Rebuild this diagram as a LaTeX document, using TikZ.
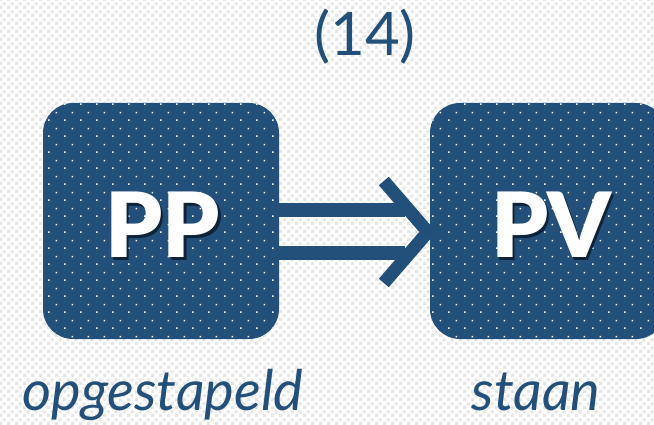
\documentclass[tikz,border=0pt]{standalone}
\usepackage{fontspec}
\setmainfont{Lato}
\newfontfamily\heavyfont{Lato Black}
\usetikzlibrary{patterns}
\pgfdeclarepatternformonly{bgchecker}{\pgfqpoint{0pt}{0pt}}{\pgfqpoint{8pt}{8pt}}{\pgfqpoint{8pt}{8pt}}{%
  \pgfpathrectangle{\pgfqpoint{0pt}{0pt}}{\pgfqpoint{3.5pt}{3.5pt}}%
  \pgfpathrectangle{\pgfqpoint{4pt}{4pt}}{\pgfqpoint{3.5pt}{3.5pt}}%
  \pgfusepath{fill}}
\pgfdeclarepatternformonly{whitedots}{\pgfqpoint{0pt}{0pt}}{\pgfqpoint{16pt}{16pt}}{\pgfqpoint{16pt}{16pt}}{%
  \pgfpathrectangle{\pgfqpoint{0pt}{0pt}}{\pgfqpoint{1.7pt}{1.7pt}}%
  \pgfpathrectangle{\pgfqpoint{8pt}{8pt}}{\pgfqpoint{1.7pt}{1.7pt}}%
  \pgfusepath{fill}}
\definecolor{dblue}{HTML}{23507A}
\definecolor{shadowblue}{HTML}{0E2238}
\newcommand{\shadowed}[1]{\rlap{\kern2.5pt\raisebox{-3pt}{\color{shadowblue}#1}}#1}
\tikzset{
  box/.style={draw=none, fill=dblue, rounded corners=30pt, minimum width=236pt, minimum height=236pt,
    inner sep=0pt, postaction={pattern=whitedots, pattern color=white}},
  boxtext/.style={text=white, font=\fontsize{90}{90}\selectfont\heavyfont, inner sep=0pt, anchor=base},
  caption/.style={text=dblue, font=\fontsize{56}{56}\selectfont\itshape, inner sep=0pt, anchor=base},
  bar/.style={draw=dblue, line width=14pt, line cap=butt},
  chev/.style={draw=dblue, line width=13pt, line cap=butt, line join=miter}
}
\begin{document}
\begin{tikzpicture}[x=1pt, y=-1pt]
\clip (0,0) rectangle (654,425);
\fill[white] (0,0) rectangle (654,425);
\fill[pattern=bgchecker, pattern color=gray!20] (0,0) rectangle (654,425);
% boxes
\node[box] (pp) at (161,221) {};
\node[box] (pv) at (548,221) {};
% double arrow
\draw[bar] ([yshift=11pt]pp.east) -- ([xshift=-25pt,yshift=11pt]pv.west);
\draw[bar] ([yshift=-32pt]pp.east) -- ([xshift=-25pt,yshift=-32pt]pv.west);
\draw[chev] ([xshift=-46pt,yshift=40pt]pv.west) -- ([xshift=-2pt,yshift=-11pt]pv.west) -- ([xshift=-46pt,yshift=-62pt]pv.west);
% box texts
\node[boxtext] (ppt) at (162.5,258) {\shadowed{PP}};
\node[boxtext] (pvt) at (551,258) {\shadowed{PV}};
% title
\node[text=dblue, font=\fontsize{60}{60}\selectfont, inner sep=0pt, anchor=base] (num) at (365,56) {(14)};
% captions
\node[caption] (c1) at (163,410) {opgestapeld};
\node[caption] (c2) at (536,410) {staan};
\end{tikzpicture}
\end{document}
